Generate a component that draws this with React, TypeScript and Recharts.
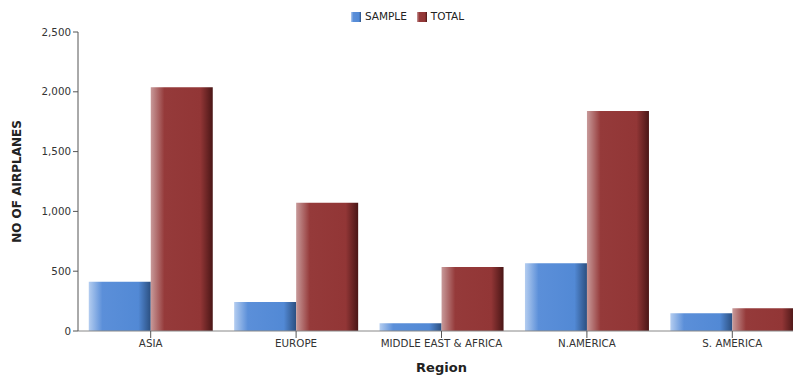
import { BarChart, Bar, XAxis, YAxis, Legend } from 'recharts';

const REGIONS = ['ASIA', 'EUROPE', 'MIDDLE EAST & AFRICA', 'N.AMERICA', 'S. AMERICA'];
const SAMPLE = [412, 243, 64, 566, 148];
const TOTAL = [2038, 1072, 536, 1840, 190];
const Y_TICKS = [0, 500, 1000, 1500, 2000, 2500];

const data = REGIONS.map((region, i) => ({
  region,
  sample: SAMPLE[i],
  total: TOTAL[i],
}));

const FONT = '"DejaVu Sans", Verdana, sans-serif';

export default function App() {
  return (
    <div style={{ position: 'fixed', top: 0, left: 0, width: 793, height: 376, overflow: 'hidden', background: '#fff' }}>
      <BarChart
        width={812}
        height={376}
        data={data}
        margin={{ top: 10, right: 7, bottom: 5, left: 0 }}
        barCategoryGap="7.4%"
        barGap={0}
        style={{ fontFamily: FONT }}
      >
        <defs>
          <linearGradient id="gradSample" x1="0" y1="0" x2="1" y2="0">
            <stop offset="0%" stopColor="#b4cdf0" />
            <stop offset="22%" stopColor="#5b8fd9" />
            <stop offset="80%" stopColor="#5289d5" />
            <stop offset="100%" stopColor="#2b4f80" />
          </linearGradient>
          <linearGradient id="gradTotal" x1="0" y1="0" x2="1" y2="0">
            <stop offset="0%" stopColor="#c89a9a" />
            <stop offset="22%" stopColor="#953a3a" />
            <stop offset="80%" stopColor="#923636" />
            <stop offset="100%" stopColor="#4a1616" />
          </linearGradient>
        </defs>
        <Legend
          verticalAlign="top"
          align="center"
          iconType="square"
          iconSize={10}
          height={22}
          wrapperStyle={{ fontSize: 10.5, color: '#222', paddingLeft: 10 }}
          formatter={(value: string) => <span style={{ color: '#222' }}>{value}</span>}
        />
        <XAxis
          dataKey="region"
          height={40}
          tick={{ fontSize: 10.3, fill: '#333' }}
          tickLine={{ stroke: '#555' }}
          axisLine={{ stroke: '#888' }}
          tickSize={7}
          interval={0}
          label={{ value: 'Region', position: 'insideBottom', offset: -1, fontSize: 13, fontWeight: 'bold', fill: '#222' }}
        />
        <YAxis
          width={78}
          domain={[0, 2500]}
          ticks={Y_TICKS}
          tickFormatter={(v: number) => v.toLocaleString('en-US')}
          tick={{ fontSize: 10.3, fill: '#333' }}
          tickLine={{ stroke: '#555' }}
          axisLine={{ stroke: '#555' }}
          tickSize={5}
          label={{ value: 'NO OF AIRPLANES', angle: -90, position: 'insideLeft', offset: 17, fontSize: 12, fontWeight: 'bold', fill: '#222', style: { textAnchor: 'middle' } }}
        />
        <Bar dataKey="sample" name="SAMPLE" fill="url(#gradSample)" legendType="square" isAnimationActive={false} />
        <Bar dataKey="total" name="TOTAL" fill="url(#gradTotal)" legendType="square" isAnimationActive={false} />
      </BarChart>
    </div>
  );
}
